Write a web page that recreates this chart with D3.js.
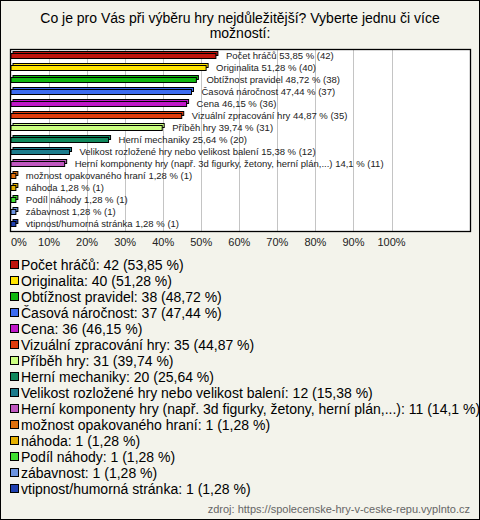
<!DOCTYPE html>
<html><head><meta charset="utf-8">
<script src="https://cdn.jsdelivr.net/npm/d3@7"></script>
<style>
html,body{margin:0;padding:0;background:#f3f3eb;}
svg{display:block;}
</style></head>
<body>
<svg id="c" width="480" height="520"></svg>
<script>
const categories = ["Počet hráčů","Originalita","Obtížnost pravidel","Časová náročnost","Cena","Vizuální zpracování hry","Příběh hry","Herní mechaniky","Velikost rozložené hry nebo velikost balení","Herní komponenty hry (např. 3d figurky, žetony, herní plán,...)","možnost opakovaného hraní","náhoda","Podíl náhody","zábavnost","vtipnost/humorná stránka"];
const counts = [42,40,38,37,36,35,31,20,12,11,1,1,1,1,1];
const percents = [53.85,51.28,48.72,47.44,46.15,44.87,39.74,25.64,15.38,14.1,1.28,1.28,1.28,1.28,1.28];
const colors = ["#c0140c","#ffe400","#10b810","#3c6cf0","#c018c8","#e03c0c","#ccff80","#10885c","#1c7c8c","#c058c0","#e0700c","#e4b000","#40e030","#6c94e0","#2040b0"];
const tickValues = [0,10,20,30,40,50,60,70,80,90,100];
const title = ["Co je pro Vás při výběru hry nejdůležitější? Vyberte jednu či více","možností:"];
const source = "zdroj: https://spolecenske-hry-v-ceske-repu.vyplnto.cz";

const fmt = v => String(v).replace(".", ",");
const svg = d3.select("#c");
const W = 480, H = 520;
const font = "'Liberation Sans', Arial, sans-serif";

svg.append("rect").attr("x",0.5).attr("y",0.5).attr("width",W-1).attr("height",H-1)
  .attr("fill","#f3f3eb").attr("stroke","#000");

svg.append("g").selectAll("text").data(title).join("text")
  .attr("x",240).attr("y",(d,i)=>23+i*15).attr("text-anchor","middle")
  .attr("font-family",font).attr("font-size",14).attr("fill","#000").text(d=>d);

const plot = {l:11, t:50, r:470, b:231};
svg.append("rect").attr("x",plot.l-0.5).attr("y",plot.t-0.5)
  .attr("width",plot.r-plot.l+1).attr("height",plot.b-plot.t+1)
  .attr("fill","#fff");

const x = d3.scaleLinear().domain([0,100]).range([plot.l, plot.l+380.5]);
const y = d3.scaleBand().domain(categories).range([plot.t, plot.t+15*12]);

svg.append("g").selectAll("line").data(tickValues.filter(v=>v>0)).join("line")
  .attr("x1",d=>Math.round(x(d))+0.5).attr("x2",d=>Math.round(x(d))+0.5)
  .attr("y1",plot.t).attr("y2",plot.b).attr("stroke","#c4c4c4").attr("stroke-width",1);

svg.append("rect").attr("x",plot.l-0.5).attr("y",plot.t-0.5)
  .attr("width",plot.r-plot.l+1).attr("height",plot.b-plot.t+1)
  .attr("fill","none").attr("stroke","#000").attr("stroke-width",1.3);

const bars = svg.append("g").selectAll("g").data(categories).join("g");
bars.each(function(c,i){
  const g = d3.select(this);
  const cy = y(c) + y.bandwidth()/2;
  const x0 = x(0), x1 = x(percents[i]);
  const w = Math.max(x1 - x0, 3);
  g.append("rect").attr("x",x0+2).attr("y",cy-4.5).attr("width",w).attr("height",4)
    .attr("fill",colors[i]).attr("stroke","#000").attr("stroke-width",1);
  g.append("rect").attr("x",x0).attr("y",cy-2.5).attr("width",w).attr("height",5)
    .attr("fill",colors[i]).attr("stroke","#000").attr("stroke-width",1);
  g.append("text").attr("x",x0+w+10).attr("y",cy+3)
    .attr("font-family",font).attr("font-size",9.5).attr("fill","#222")
    .text(c+" "+fmt(percents[i])+" % ("+counts[i]+")");
});

svg.append("g").selectAll("text").data(tickValues).join("text")
  .attr("x",d=>x(d)).attr("y",246)
  .attr("text-anchor",d=>d===0?"start":"middle")
  .attr("font-family",font).attr("font-size",11).attr("fill","#222")
  .text(d=>d+"%");

const leg = svg.append("g").selectAll("g").data(categories).join("g")
  .attr("transform",(d,i)=>`translate(0,${265+i*16})`);
leg.append("rect").attr("x",10.5).attr("y",-4.5).attr("width",8).attr("height",8)
  .attr("fill",(d,i)=>colors[i]).attr("stroke","#000");
leg.append("text").attr("x",21).attr("y",5)
  .attr("font-family",font).attr("font-size",14).attr("fill","#000")
  .text((d,i)=>d+": "+counts[i]+" ("+fmt(percents[i])+" %)");

svg.append("text").attr("x",470).attr("y",513).attr("text-anchor","end")
  .attr("font-family",font).attr("font-size",11).attr("fill","#666").text(source);
</script>
</body></html>
